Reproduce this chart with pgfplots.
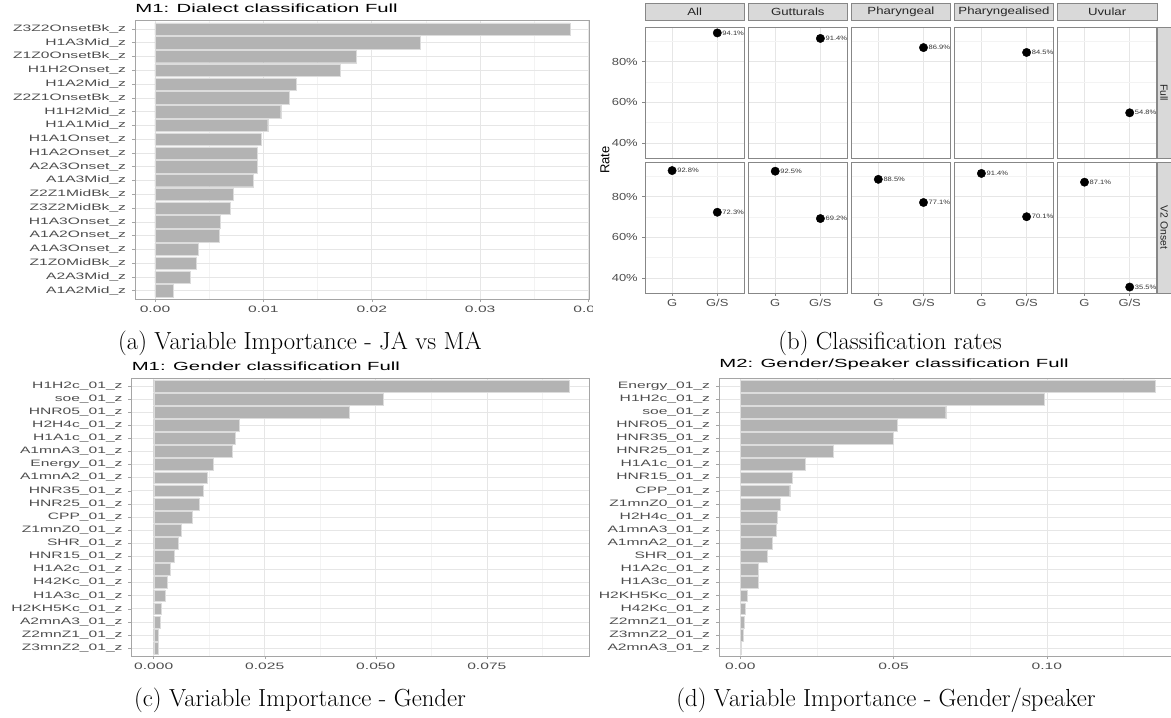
\documentclass[border=0pt]{standalone}
\usepackage{fontspec}
\usepackage{graphicx}
\usepackage{pgfplots}
\pgfplotsset{compat=1.18}
\newfontfamily\plotfont{Liberation Sans}
\definecolor{barfill}{RGB}{179,179,179}
\definecolor{barline}{RGB}{220,220,220}
\definecolor{gridmaj}{RGB}{230,230,230}
\definecolor{gridmin}{RGB}{243,243,243}
\definecolor{frame}{RGB}{165,165,165}
\definecolor{ticktext}{RGB}{77,77,77}
\definecolor{stripfill}{RGB}{217,217,217}
\definecolor{stripline}{RGB}{135,135,135}

\pgfplotsset{
  imp/.style={
    scale only axis, xbar, bar width=0.9, y dir=reverse,
    scaled x ticks=false,
    tick pos=left, tick align=outside,
    major tick length=3pt, minor tick length=0pt,
    tick style={frame, line width=0.5pt},
    axis line style={frame, line width=0.7pt},
    major grid style={gridmaj, line width=0.6pt},
    minor grid style={gridmin, line width=0.5pt},
    xmajorgrids, xminorgrids, ymajorgrids,
    tick label style={font=\plotfont\fontsize{9.3}{10}\selectfont, text=ticktext, xscale=1.68},
    title style={at={(0,1)}, anchor=south west, font=\plotfont\fontsize{11.8}{13}\selectfont, xscale=1.72, inner sep=0pt, yshift=1.5pt},
  },
  impbar/.style={fill=barfill, draw=barline, line width=0.4pt},
  facet/.style={
    scale only axis, width=99.4pt, height=131pt,
    xmin=0.4, xmax=2.6, ymin=32.57, ymax=97.03,
    xtick={1,2}, ytick={40,60,80}, minor ytick={50,70,90},
    xticklabels={G,G/S}, yticklabels={40\%,60\%,80\%},
    xmajorgrids, ymajorgrids, yminorgrids,
    major grid style={gridmaj, line width=0.6pt},
    minor grid style={gridmin, line width=0.5pt},
    tick pos=left, tick align=outside,
    major tick length=2.75pt, minor tick length=0pt,
    tick style={stripline, line width=0.5pt},
    axis line style={stripline, line width=0.7pt},
    tick label style={font=\plotfont\fontsize{10.2}{11}\selectfont, text=ticktext, xscale=1.27},
    clip=false,
    nodes near coords={\makebox[0pt][l]{\hspace{5.2pt}\scalebox{1.2}[1]{\pgfplotspointmeta}}},
    point meta=explicit symbolic,
    every node near coord/.style={anchor=center, inner sep=0pt,
      font=\plotfont\fontsize{6.3}{7}\selectfont, text=black!80},
  },
  noyl/.style={yticklabels={}, ytick style={draw=none}},
  noxl/.style={xticklabels={}, xtick style={draw=none}},
  strip/.style={title={\scalebox{1.27}[1]{#1}},
    title style={at={(0.5,1)}, anchor=south, fill=stripfill, draw=stripline,
      line width=0.6pt, minimum width=99.4pt, minimum height=17pt, inner sep=0pt,
      font=\plotfont\fontsize{10.4}{11}\selectfont, text=black!85, yshift=0pt}},
  rstrip/.style={after end axis/.code={
    \node[rotate=-90, anchor=south, fill=stripfill, draw=stripline, line width=0.6pt,
      minimum width=131pt, minimum height=14pt, inner sep=0pt,
      font=\plotfont\fontsize{10.4}{11}\selectfont, text=black!85]
      at (rel axis cs:1,0.5) {#1};}},
  dots/.style={only marks, mark=*, mark size=4.2pt, black},
}

\begin{document}
\begin{tikzpicture}
\path[use as bounding box] (0pt,0pt) rectangle (1171pt,718pt);

% ---------------- (a) ----------------
\begin{scope}
\clip (0pt,0pt) rectangle (592pt,718pt);
\begin{axis}[imp, at={(135pt,419pt)}, anchor=south west,
  width=454pt, height=278.3pt,
  xmin=-0.001845, xmax=0.04004, ymin=0.4, ymax=20.6,
  xtick={0,0.01,0.02,0.03,0.04}, xticklabels={0.00,0.01,0.02,0.03,0.04},
  minor xtick={0.005,0.015,0.025,0.035},
  ytick={1,...,20},
  yticklabels={Z3Z2OnsetBk\_z,H1A3Mid\_z,Z1Z0OnsetBk\_z,H1H2Onset\_z,H1A2Mid\_z,
    Z2Z1OnsetBk\_z,H1H2Mid\_z,H1A1Mid\_z,H1A1Onset\_z,H1A2Onset\_z,A2A3Onset\_z,
    A1A3Mid\_z,Z2Z1MidBk\_z,Z3Z2MidBk\_z,H1A3Onset\_z,A1A2Onset\_z,A1A3Onset\_z,
    Z1Z0MidBk\_z,A2A3Mid\_z,A1A2Mid\_z},
  title={M1: Dialect classification Full}]
\addplot[impbar] coordinates {
  (0.0383,1) (0.02445,2) (0.0186,3) (0.0171,4) (0.0130,5)
  (0.0124,6) (0.0116,7) (0.0104,8) (0.0098,9) (0.00946,10)
  (0.0094,11) (0.00905,12) (0.00724,13) (0.00696,14) (0.00604,15)
  (0.0059,16) (0.00401,17) (0.00384,18) (0.00322,19) (0.00165,20)};
\end{axis}
\end{scope}

% ---------------- (c) ----------------
\begin{axis}[imp, at={(131.5pt,62pt)}, anchor=south west,
  width=457.5pt, height=278pt,
  xmin=-0.005, xmax=0.098, ymin=0.4, ymax=21.6,
  xtick={0,0.025,0.05,0.075}, xticklabels={0.000,0.025,0.050,0.075},
  minor xtick={0.0125,0.0375,0.0625,0.0875},
  ytick={1,...,21},
  yticklabels={H1H2c\_01\_z,soe\_01\_z,HNR05\_01\_z,H2H4c\_01\_z,H1A1c\_01\_z,
    A1mnA3\_01\_z,Energy\_01\_z,A1mnA2\_01\_z,HNR35\_01\_z,HNR25\_01\_z,CPP\_01\_z,
    Z1mnZ0\_01\_z,SHR\_01\_z,HNR15\_01\_z,H1A2c\_01\_z,H42Kc\_01\_z,H1A3c\_01\_z,
    H2KH5Kc\_01\_z,A2mnA3\_01\_z,Z2mnZ1\_01\_z,Z3mnZ2\_01\_z},
  title={M1: Gender classification Full}]
\addplot[impbar] coordinates {
  (0.0935,1) (0.0517,2) (0.0440,3) (0.0193,4) (0.0183,5)
  (0.0176,6) (0.0133,7) (0.0121,8) (0.0111,9) (0.0102,10)
  (0.00875,11) (0.0061,12) (0.0055,13) (0.0046,14) (0.0038,15)
  (0.0030,16) (0.0025,17) (0.0016,18) (0.0015,19) (0.0011,20) (0.0010,21)};
\end{axis}

% ---------------- (d) ----------------
\begin{axis}[imp, at={(719pt,62pt)}, anchor=south west,
  width=456pt, height=278pt,
  xmin=-0.00698, xmax=0.1418, ymin=0.4, ymax=21.6,
  xtick={0,0.05,0.1}, xticklabels={0.00,0.05,0.10},
  minor xtick={0.025,0.075,0.125},
  ytick={1,...,21},
  yticklabels={Energy\_01\_z,H1H2c\_01\_z,soe\_01\_z,HNR05\_01\_z,HNR35\_01\_z,
    HNR25\_01\_z,H1A1c\_01\_z,HNR15\_01\_z,CPP\_01\_z,Z1mnZ0\_01\_z,H2H4c\_01\_z,
    A1mnA3\_01\_z,A1mnA2\_01\_z,SHR\_01\_z,H1A2c\_01\_z,H1A3c\_01\_z,H2KH5Kc\_01\_z,
    H42Kc\_01\_z,Z2mnZ1\_01\_z,Z3mnZ2\_01\_z,A2mnA3\_01\_z},
  title={M2: Gender/Speaker classification Full}]
\addplot[impbar] coordinates {
  (0.1352,1) (0.0990,2) (0.0670,3) (0.0511,4) (0.0499,5)
  (0.0302,6) (0.0213,7) (0.0170,8) (0.0161,9) (0.0129,10)
  (0.0121,11) (0.0118,12) (0.0103,13) (0.0086,14) (0.0058,15)
  (0.0058,16) (0.0022,17) (0.0015,18) (0.0011,19) (0.0010,20) (0.0004,21)};
\end{axis}

% ---------------- (b) ----------------
% Full row
\begin{axis}[facet, noxl, strip=All, at={(645pt,560pt)}, anchor=south west]
\addplot[dots] coordinates {(2,94.1) [94.1\%]};
\end{axis}
\begin{axis}[facet, noxl, noyl, strip=Gutturals, at={(748.1pt,560pt)}, anchor=south west]
\addplot[dots] coordinates {(2,91.4) [91.4\%]};
\end{axis}
\begin{axis}[facet, noxl, noyl, strip=Pharyngeal, at={(851.2pt,560pt)}, anchor=south west]
\addplot[dots] coordinates {(2,86.9) [86.9\%]};
\end{axis}
\begin{axis}[facet, noxl, noyl, strip=Pharyngealised, at={(954.3pt,560pt)}, anchor=south west]
\addplot[dots] coordinates {(2,84.5) [84.5\%]};
\end{axis}
\begin{axis}[facet, noxl, noyl, strip=Uvular, rstrip=Full, at={(1057.4pt,560pt)}, anchor=south west]
\addplot[dots] coordinates {(2,54.8) [54.8\%]};
\end{axis}
% V2 Onset row
\begin{axis}[facet, at={(645pt,425pt)}, anchor=south west]
\addplot[dots] coordinates {(1,92.8) [92.8\%] (2,72.3) [72.3\%]};
\end{axis}
\begin{axis}[facet, noyl, at={(748.1pt,425pt)}, anchor=south west]
\addplot[dots] coordinates {(1,92.5) [92.5\%] (2,69.2) [69.2\%]};
\end{axis}
\begin{axis}[facet, noyl, at={(851.2pt,425pt)}, anchor=south west]
\addplot[dots] coordinates {(1,88.5) [88.5\%] (2,77.1) [77.1\%]};
\end{axis}
\begin{axis}[facet, noyl, at={(954.3pt,425pt)}, anchor=south west]
\addplot[dots] coordinates {(1,91.4) [91.4\%] (2,70.1) [70.1\%]};
\end{axis}
\begin{axis}[facet, noyl, rstrip={V2 Onset}, at={(1057.4pt,425pt)}, anchor=south west]
\addplot[dots] coordinates {(1,87.1) [87.1\%] (2,35.5) [35.5\%]};
\end{axis}
\node[rotate=90, font=\plotfont\fontsize{13}{14}\selectfont] at (605pt,558pt) {Rate};

% ---------------- captions ----------------
\node[anchor=base, font=\fontsize{24.7}{28}\selectfont] at (300pt,368pt) {(a) Variable Importance - JA vs MA};
\node[anchor=base, font=\fontsize{24.7}{28}\selectfont] at (890pt,368pt) {(b) Classification rates};
\node[anchor=base, font=\fontsize{24.7}{28}\selectfont] at (300pt,11pt) {(c) Variable Importance - Gender};
\node[anchor=base, font=\fontsize{24.7}{28}\selectfont] at (886pt,11pt) {(d) Variable Importance - Gender/speaker};
\end{tikzpicture}
\end{document}
